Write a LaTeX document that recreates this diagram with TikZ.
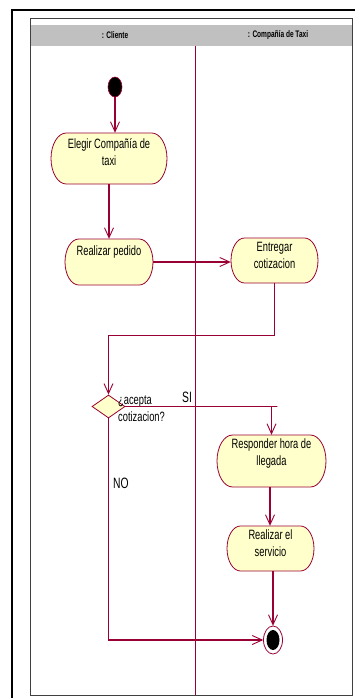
\documentclass[tikz,border=0pt]{standalone}
\usepackage{fontspec}
\setmainfont[FakeStretch=0.69]{Liberation Sans}
\usetikzlibrary{arrows.meta,shapes.geometric,calc}
\definecolor{umlline}{HTML}{990033}
\definecolor{umlfill}{HTML}{FFFFCC}
\definecolor{lanehead}{HTML}{C0C0C0}
\tikzset{
  flow/.style={draw=umlline, line width=1.2pt, -{Straight Barb[length=10pt,width=9pt,line width=0.9pt]}},
  decision/.style={diamond, draw=umlline, fill=umlfill, line width=0.8pt, inner sep=0pt,
    minimum width=33pt, minimum height=23pt, aspect=1.43},
  lbl/.style={font=\fontsize{13.5}{17}\selectfont, inner sep=0pt, align=center},
  guard/.style={font=\fontsize{15}{17}\selectfont, inner sep=0pt},
  headtxt/.style={font=\fontsize{9.5}{10}\selectfont\bfseries, inner sep=0pt},
}
% activity state: flat top and bottom, elliptic ends
\newcommand{\actshape}[5]{% name, cx, cy, width, height
  \filldraw[draw=umlline, fill=umlfill, line width=0.8pt]
    ({#2-#4/2+#5*0.3},{#3-#5/2}) -- ({#2+#4/2-#5*0.3},{#3-#5/2})
    arc[start angle=-90,end angle=90,x radius={#5*0.3},y radius={#5/2}]
    -- ({#2-#4/2+#5*0.3},{#3+#5/2})
    arc[start angle=90,end angle=270,x radius={#5*0.3},y radius={#5/2}] -- cycle;
  \path (#2,#3) node[inner sep=0pt, minimum width=#4 pt, minimum height=#5 pt] (#1) {};
}
\begin{document}
\begin{tikzpicture}[x=1pt,y=-1pt]
\useasboundingbox (0,0) rectangle (355,698);
% outer frame
\draw[black, line width=2pt] (12,698) -- (12,10.5) -- (356,10.5);
% swimlane frame and header band
\fill[lanehead] (31,25) rectangle (352.5,46);
\draw[black!75, line width=1pt] (30.5,18.5) rectangle (352.5,695);
\draw[umlline, line width=0.6pt] (195,46) -- (195,695);
\node[headtxt] (laneA) at (115,35.5) {: Cliente};
\node[headtxt] (laneB) at (278,35.5) {: Compañía de Taxi};

% initial state
\fill[black] (115,87) ellipse[x radius=7,y radius=10];
\draw[umlline, line width=0.6pt] (115,87) ellipse[x radius=7,y radius=10];
\node[inner sep=0pt, minimum width=14pt, minimum height=20pt] (start) at (115,87) {};

% activities
\actshape{elegir}{109}{158.5}{116}{51}
\node[lbl] (elegirT) at (109,152.5) {Elegir Compañía de\\taxi};
\actshape{pedido}{109}{262}{88}{46}
\node[lbl] (pedidoT) at (109,252) {Realizar pedido};
\actshape{cotiz}{274.5}{260.5}{87}{45}
\node[lbl] (cotizT) at (274.5,255.5) {Entregar\\cotizacion};
\actshape{hora}{271.5}{461}{109}{52}
\node[lbl] (horaT) at (271.5,454) {Responder hora de\\llegada};
\actshape{servicio}{270.5}{548.5}{87}{45}
\node[lbl] (servicioT) at (270.5,543.5) {Realizar el\\servicio};

% decision
\node[decision] (dec) at (108.5,406.5) {};
\node[lbl, align=left, anchor=west] (decT) at (118,408.5) {¿acepta\\cotizacion?};

% final state
\draw[umlline, line width=0.8pt, fill=white] (273,640) ellipse[x radius=9.5,y radius=14];
\fill[black] (273,640) ellipse[x radius=6.5,y radius=10];
\node[inner sep=0pt, minimum width=19pt, minimum height=28pt] (fin) at (273,640) {};

% transitions
\draw[flow] (start.south) -- (elegir.north -| start.south);
\draw[flow] (elegir.south -| pedido.north) -- (pedido.north);
\draw[flow] (pedido.east) -- (cotiz.west |- pedido.east);
\draw[flow] (cotiz.south) -- ++(0,52) -| (dec.north);
\draw[flow] (dec.east) -- ++(152,0) -| (hora.north);
\draw[flow] (hora.south -| 270,0) -- (servicio.north -| 270,0);
\draw[flow] (servicio.south -| fin.north) -- (fin.north);
\draw[flow] (dec.south) |- (fin.west);

% guard labels
\node[guard] (si) at (187,397) {SI};
\node[guard] (no) at (121,483) {NO};
\end{tikzpicture}
\end{document}
